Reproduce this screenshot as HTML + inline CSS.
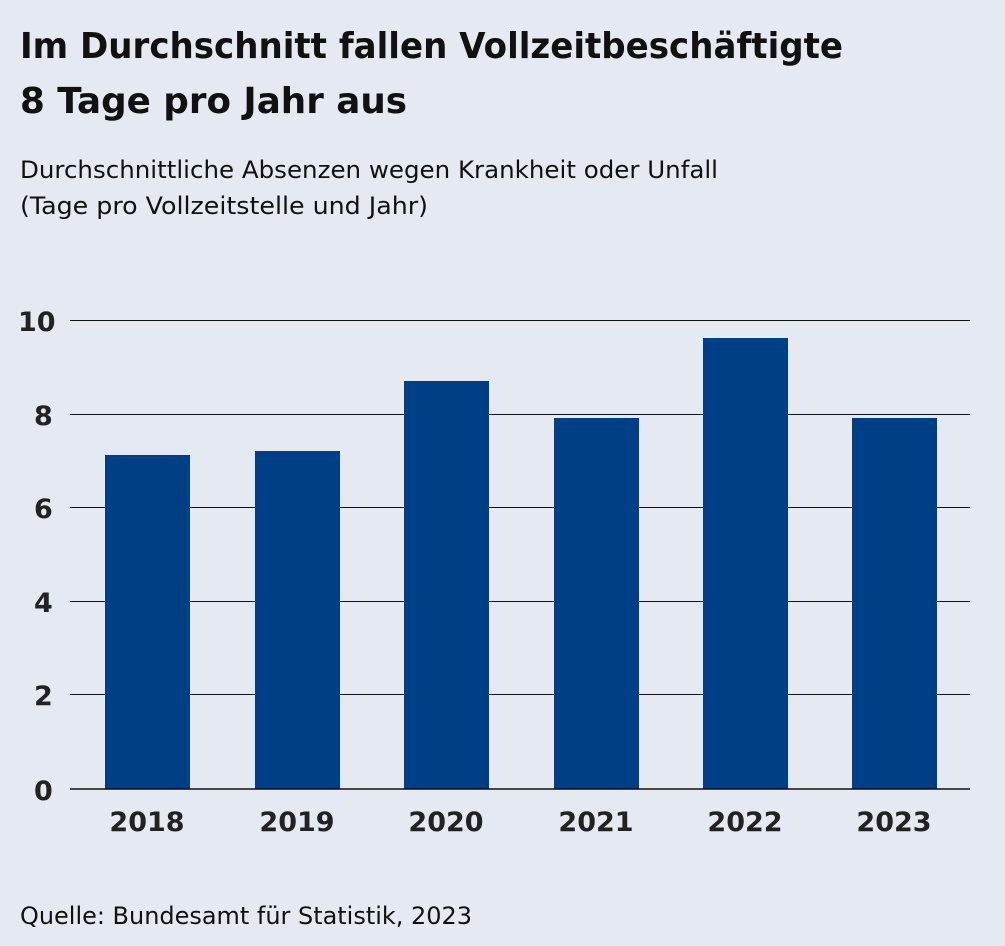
<!DOCTYPE html>
<html><head><meta charset="utf-8"><style>
body{margin:0;background:#e4e9f2;width:1005px;height:946px;overflow:hidden;font-family:"DejaVu Sans","Liberation Sans",sans-serif;color:#111}
</style></head><body>
<svg width="1005" height="946" xmlns="http://www.w3.org/2000/svg" style="position:absolute;left:0;top:0">
<rect width="1005" height="946" fill="#e4e9f2"/>
<g font-family="DejaVu Sans, Liberation Sans, sans-serif" fill="#111">
<text x="20" y="58" font-size="36" font-weight="bold" textLength="823" lengthAdjust="spacingAndGlyphs">Im Durchschnitt fallen Vollzeitbeschäftigte</text>
<text x="20" y="113" font-size="36" font-weight="bold" textLength="387" lengthAdjust="spacingAndGlyphs">8 Tage pro Jahr aus</text>
<text x="20" y="178" font-size="24" textLength="698" lengthAdjust="spacingAndGlyphs">Durchschnittliche Absenzen wegen Krankheit oder Unfall</text>
<text x="20" y="214" font-size="24" textLength="408" lengthAdjust="spacingAndGlyphs">(Tage pro Vollzeitstelle und Jahr)</text>
<text x="20" y="924" font-size="24" textLength="452" lengthAdjust="spacingAndGlyphs">Quelle: Bundesamt für Statistik, 2023</text>
</g>
<g stroke="#111" stroke-width="1">
<line x1="70" x2="970" y1="320.5" y2="320.5"/>
<line x1="70" x2="970" y1="414.5" y2="414.5"/>
<line x1="70" x2="970" y1="507.5" y2="507.5"/>
<line x1="70" x2="970" y1="601.5" y2="601.5"/>
<line x1="70" x2="970" y1="694.5" y2="694.5"/>
</g>
<g fill="#003f85">
<rect x="105" y="455" width="85" height="334"/>
<rect x="255" y="451" width="85" height="338"/>
<rect x="404" y="381" width="85" height="408"/>
<rect x="554" y="418" width="85" height="371"/>
<rect x="703" y="338" width="85" height="451"/>
<rect x="852" y="418" width="85" height="371"/>
</g>
<line x1="70" x2="970" y1="789" y2="789" stroke="#111" stroke-width="1.5"/>
<g font-family="DejaVu Sans, Liberation Sans, sans-serif" font-size="27" font-weight="600" fill="#222">
<text x="18" y="331">10</text>
<text x="34" y="425">8</text>
<text x="34" y="518">6</text>
<text x="34" y="612">4</text>
<text x="34" y="705">2</text>
<text x="34" y="800">0</text>
<g text-anchor="middle">
<text x="147" y="831">2018</text>
<text x="297" y="831">2019</text>
<text x="446" y="831">2020</text>
<text x="596" y="831">2021</text>
<text x="745" y="831">2022</text>
<text x="894" y="831">2023</text>
</g></g>
</svg>
</body></html>
